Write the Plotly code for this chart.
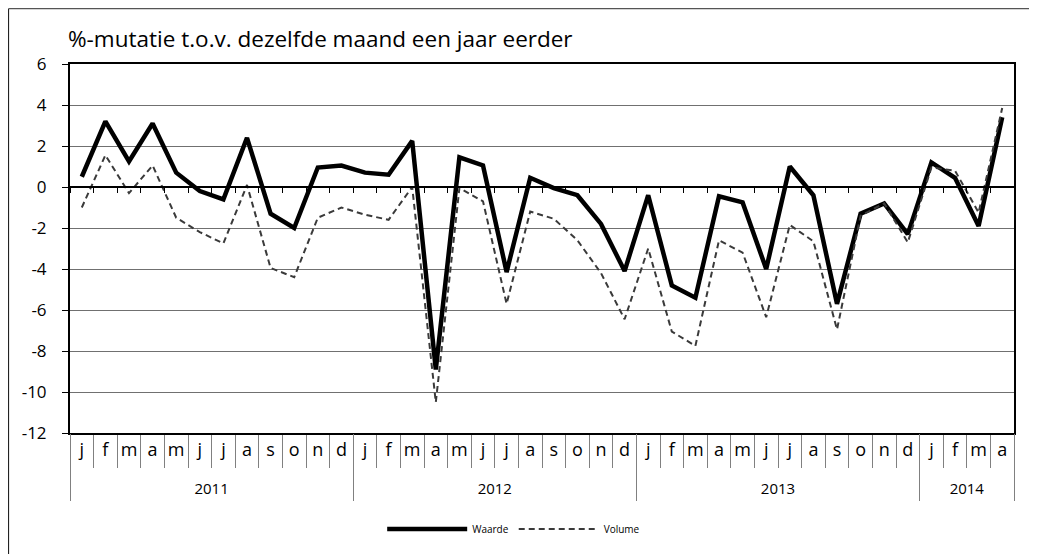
import plotly.graph_objects as go

# ---- data ----
months = ["j", "f", "m", "a", "m", "j", "j", "a", "s", "o", "n", "d"]
years = ["2011", "2012", "2013", "2014"]
months_per_year = [12, 12, 12, 4]

waarde = [0.5, 3.2, 1.25, 3.1, 0.7, -0.2, -0.6, 2.4, -1.3, -2.0, 0.95, 1.05,
          0.7, 0.6, 2.25, -8.9, 1.45, 1.05, -4.15, 0.45, -0.05, -0.4, -1.8, -4.1,
          -0.4, -4.8, -5.4, -0.45, -0.75, -4.0, 1.0, -0.4, -5.7, -1.3, -0.8, -2.3,
          1.2, 0.45, -1.9, 3.4]
volume = [-1.0, 1.55, -0.3, 1.05, -1.5, -2.2, -2.75, 0.1, -3.95, -4.4, -1.5, -1.0,
          -1.35, -1.6, 0.0, -10.5, -0.05, -0.7, -5.7, -1.2, -1.55, -2.6, -4.2, -6.45,
          -3.0, -7.05, -7.75, -2.6, -3.2, -6.35, -1.85, -2.65, -6.95, -1.4, -0.8, -2.7,
          0.95, 0.8, -1.25, 3.85]

title_text = "%-mutatie t.o.v. dezelfde maand een jaar eerder"
y_ticks = [6, 4, 2, 0, -2, -4, -6, -8, -10, -12]
y_ticktext = [str(v) for v in y_ticks]

# ---- derived axis helpers ----
n = len(waarde)
x_idx = list(range(n))
month_labels = [months[i % 12] for i in range(n)]
boundaries = [i - 0.5 for i in range(n + 1)]
year_bounds = [-0.5]
year_centers = []
start = 0
for cnt in months_per_year:
    year_centers.append(start + (cnt - 1) / 2)
    start += cnt
    year_bounds.append(start - 0.5)

FONT = "Open Sans"
xr = [-0.5, n - 0.5]
ymin, ymax = -12, 6

W, H = 1029, 546
ML, MR, MT, MB = 62, 23, 56, 120

fig = go.Figure()
fig.add_trace(go.Scatter(x=x_idx, y=waarde, mode="lines", name="Waarde",
                         line=dict(color="black", width=4.5)))
fig.add_trace(go.Scatter(x=x_idx, y=volume, mode="lines", name="Volume",
                         line=dict(color="#3a3a3a", width=2, dash="6px,4px")))
# empty helper traces so overlay axes get drawn
for ax in ["x2", "x3", "x4", "x5"]:
    fig.add_trace(go.Scatter(x=[None], y=[None], xaxis=ax, yaxis="y",
                             showlegend=False, hoverinfo="skip", mode="lines"))

grey = "#808080"
fig.update_layout(
    width=W, height=H,
    margin=dict(l=ML, r=MR, t=MT, b=MB),
    paper_bgcolor="white", plot_bgcolor="white",
    font=dict(family=FONT, color="black"),
    showlegend=True,
    legend=dict(orientation="h", x=0.47, y=-0.257, xanchor="center", yanchor="middle",
                font=dict(size=10, family=FONT), itemwidth=80, tracegroupgap=0),
    xaxis=dict(range=xr, tickmode="array", tickvals=boundaries,
               ticktext=[""] * len(boundaries), ticks="outside", ticklen=33,
               tickcolor=grey, tickwidth=1, showgrid=False, zeroline=False,
               showline=True, linecolor="black", linewidth=2, mirror=True),
    xaxis2=dict(range=xr, overlaying="x", anchor="free", position=(0 - ymin) / (ymax - ymin),
                side="bottom", tickmode="array", tickvals=boundaries,
                ticktext=[""] * len(boundaries), ticks="outside", ticklen=5,
                tickcolor="black", tickwidth=1, showgrid=False, zeroline=False,
                showline=True, linecolor="black", linewidth=1.5),
    xaxis3=dict(range=xr, overlaying="x", anchor="y", side="bottom",
                tickmode="array", tickvals=x_idx, ticktext=month_labels, ticks="",
                tickfont=dict(size=18, family=FONT), ticklabelstandoff=4,
                showgrid=False, zeroline=False, showline=False),
    xaxis4=dict(range=xr, overlaying="x", anchor="y", side="bottom",
                tickmode="array", tickvals=year_bounds,
                ticktext=[""] * len(year_bounds), ticks="outside", ticklen=67,
                tickcolor=grey, tickwidth=1, showgrid=False, zeroline=False,
                showline=False),
    xaxis5=dict(range=xr, overlaying="x", anchor="y", side="bottom",
                tickmode="array", tickvals=year_centers, ticktext=years, ticks="",
                tickfont=dict(size=15, family=FONT), ticklabelstandoff=45,
                showgrid=False, zeroline=False, showline=False),
    yaxis=dict(range=[ymin, ymax], tickmode="array", tickvals=y_ticks,
               ticktext=y_ticktext, ticklabelstandoff=12,
               ticks="outside", ticklen=6, tickcolor="black",
               tickfont=dict(size=17, family=FONT), showgrid=True, gridcolor="#707070",
               gridwidth=1, zeroline=False, showline=True, linecolor="black",
               linewidth=2, mirror=True),
    annotations=[dict(text=title_text, xref="paper", yref="paper",
                      x=-0.004, y=1.07, xanchor="left", yanchor="middle",
                      showarrow=False, font=dict(size=22.5, family=FONT))],
)

# outer frame lines (top and left), paper coords computed from margins
pw, ph = W - ML - MR, H - MT - MB
def px_x(p):
    return (p - ML) / pw
def px_y(p):
    return (H - MB - p) / ph
fig.add_shape(type="line", xref="paper", yref="paper", x0=px_x(0.5), x1=px_x(W + 5),
              y0=px_y(0.5), y1=px_y(0.5), line=dict(color="#555", width=1.2))
fig.add_shape(type="line", xref="paper", yref="paper", x0=px_x(0.5), x1=px_x(0.5),
              y0=px_y(0.5), y1=px_y(H + 5), line=dict(color="#222", width=1.2))

fig.write_html("out.html")
